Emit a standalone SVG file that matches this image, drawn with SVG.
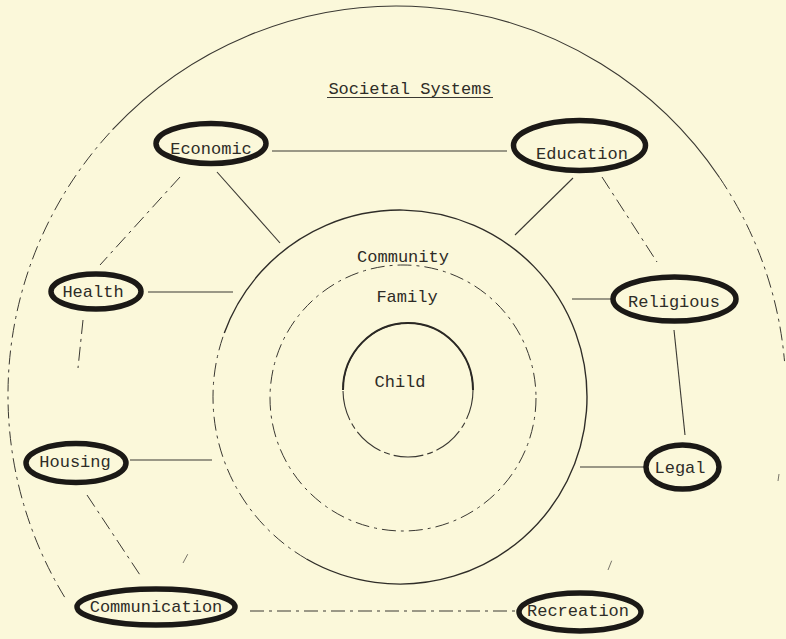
<svg xmlns="http://www.w3.org/2000/svg" width="786" height="639" viewBox="0 0 786 639">
<style>
  .bg { fill: #fbf8da; }
  .txt { font-family: "Liberation Mono", "Courier New", monospace; font-size: 17px; fill: #2e2c27; text-anchor: middle; }
  .oval { fill: none; stroke: #1b1916; stroke-width: 5.5; }
  .line { fill: none; stroke: #3a3832; stroke-width: 1.1; }
  .dash { fill: none; stroke: #3a3832; stroke-width: 1; stroke-dasharray: 14 5 3 5; }
  .faint { fill: none; stroke: #6a675e; stroke-width: 0.9; stroke-dasharray: 10 6 2 6; }
  .ring { fill: none; stroke: #2f2d28; stroke-width: 1.4; }
</style>
<rect class="bg" x="0" y="0" width="786" height="639"/>

<g id="societal-systems">
  <path class="line" d="M 112.5 129.7 A 389 389 0 0 1 719.5 177.5"/>
  <path class="dash" d="M 719.5 177.5 A 389 389 0 0 1 784.5 361.1"/>
  <path class="dash" d="M 64.6 597.1 A 389 389 0 0 1 112.5 129.7"/>
  <path class="faint" d="M 779 474 L 778 481"/>
  <text class="txt" x="410" y="94">Societal Systems</text>
  <line class="line" x1="327" y1="97.5" x2="493" y2="97.5"/>
</g>

<g id="community">
  <path class="ring" d="M 224.3 333 A 187 187 0 1 1 306.5 559"/>
  <path class="dash" d="M 306.5 559 A 187 187 0 0 1 224.3 333"/>
  <text class="txt" x="403" y="262">Community</text>
</g>

<g id="family">
  <circle class="dash" cx="403" cy="398" r="133"/>
  <text class="txt" x="407" y="302">Family</text>
</g>

<g id="child">
  <ellipse class="line" cx="408" cy="390" rx="65" ry="67" stroke-dasharray="30 4 6 4"/>
  <path fill="none" stroke="#2a2824" stroke-width="2" d="M 343 390 A 65 67 0 0 1 473 390"/>
  <text class="txt" x="400" y="387">Child</text>
</g>

<g id="connectors">
  <line class="line" x1="272" y1="151" x2="507" y2="151"/>
  <line class="dash" x1="180" y1="177" x2="100" y2="265"/>
  <line class="line" x1="217" y1="172" x2="280" y2="243"/>
  <line class="line" x1="573" y1="178" x2="515" y2="235"/>
  <line class="dash" x1="602" y1="177" x2="657" y2="262"/>
  <line class="line" x1="148" y1="292" x2="233" y2="292"/>
  <line class="dash" x1="83" y1="320" x2="78" y2="368"/>
  <line class="line" x1="130" y1="460" x2="212" y2="460"/>
  <line class="dash" x1="87" y1="495" x2="142" y2="578"/>
  <line class="line" x1="572" y1="299" x2="612" y2="299"/>
  <line class="line" x1="674" y1="330" x2="685" y2="435"/>
  <line class="line" x1="580" y1="467" x2="645" y2="467"/>
  <line class="dash" x1="250" y1="611" x2="515" y2="611"/>
  <line class="faint" x1="183" y1="563" x2="190" y2="550"/>
  <line class="faint" x1="608" y1="570" x2="612" y2="560"/>
</g>

<g id="economic">
  <ellipse class="oval" cx="211" cy="143.5" rx="55" ry="20"/>
  <text class="txt" x="211" y="154">Economic</text>
</g>
<g id="education">
  <ellipse class="oval" cx="579.5" cy="145.5" rx="66" ry="25"/>
  <text class="txt" x="582" y="159">Education</text>
</g>
<g id="health">
  <ellipse class="oval" cx="96" cy="291.5" rx="45" ry="17.5"/>
  <text class="txt" x="93" y="297">Health</text>
</g>
<g id="religious">
  <ellipse class="oval" cx="674.5" cy="299" rx="61.5" ry="22"/>
  <text class="txt" x="674" y="307">Religious</text>
</g>
<g id="housing">
  <ellipse class="oval" cx="76" cy="463" rx="50" ry="19.5"/>
  <text class="txt" x="75" y="467">Housing</text>
</g>
<g id="legal">
  <ellipse class="oval" cx="682.5" cy="467" rx="36.5" ry="22"/>
  <text class="txt" x="680" y="473">Legal</text>
</g>
<g id="communication">
  <ellipse class="oval" cx="156" cy="607" rx="79" ry="18"/>
  <text class="txt" x="156" y="612">Communication</text>
</g>
<g id="recreation">
  <ellipse class="oval" cx="580" cy="612" rx="61" ry="19"/>
  <text class="txt" x="578" y="616">Recreation</text>
</g>
</svg>
